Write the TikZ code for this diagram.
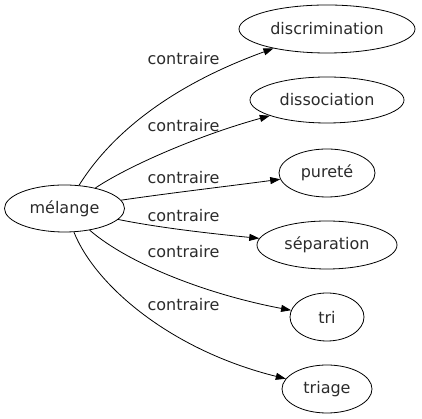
\documentclass[tikz,border=0pt]{standalone}
\usepackage{fontspec}
\setmainfont{DejaVu Sans}
\usetikzlibrary{shapes.geometric,arrows.meta}
\definecolor{txt}{HTML}{2b2b2b}
\tikzset{
  word/.style={ellipse,draw=black,line width=0.8pt,inner sep=0pt,text=txt,font=\fontsize{16}{19}\selectfont},
  lbl/.style={anchor=base,text=txt,font=\fontsize{16}{19}\selectfont,inner sep=0pt},
  link/.style={draw=black,line width=0.8pt,-{Triangle[length=10pt,width=7pt]}}
}
\begin{document}
\begin{tikzpicture}[x=1pt,y=1pt]
\useasboundingbox (0,0) rectangle (422,419);
\node[word,minimum width=120pt,minimum height=47pt] (m) at (64.5,210.5) {mélange};
\node[word,minimum width=176pt,minimum height=48pt] (d1) at (327,390) {discrimination};
\node[word,minimum width=154pt,minimum height=46pt] (d2) at (327,319) {dissociation};
\node[word,minimum width=96pt,minimum height=48pt] (d3) at (327,246) {pureté};
\node[word,minimum width=140pt,minimum height=48pt] (d4) at (327,174) {séparation};
\node[word,minimum width=74pt,minimum height=48pt] (d5) at (327,102) {tri};
\node[word,minimum width=90pt,minimum height=48pt] (d6) at (327,30) {triage};
\draw[link] (m) .. controls (98,264) and (145,324) .. (d1);
\draw[link] (m) .. controls (130,254) and (200,284) .. (d2);
\draw[link] (m) .. controls (170,226) and (230,233) .. (d3);
\draw[link] (m) .. controls (160,191) and (215,185) .. (d4);
\draw[link] (m) .. controls (130,154) and (210,124) .. (d5);
\draw[link] (m) .. controls (95,134) and (170,69) .. (d6);
\node[lbl] (l1) at (183.5,354) {contraire};
\node[lbl] (l2) at (183.5,287) {contraire};
\node[lbl] (l3) at (183.5,235) {contraire};
\node[lbl] (l4) at (183.5,197) {contraire};
\node[lbl] (l5) at (183.5,161) {contraire};
\node[lbl] (l6) at (183.5,108) {contraire};
\end{tikzpicture}
\end{document}
